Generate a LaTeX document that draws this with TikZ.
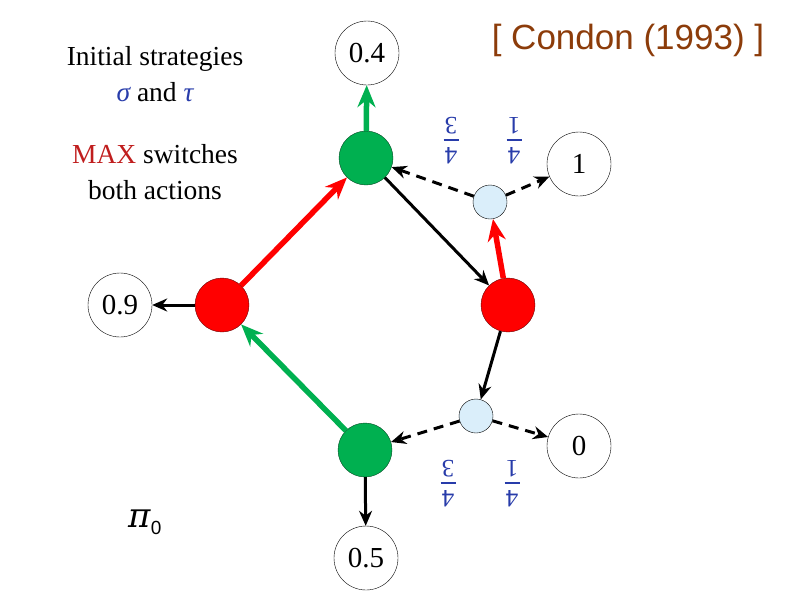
\documentclass[tikz,border=0pt]{standalone}
\usepackage{fontspec}
\usepackage{graphicx}
\setmainfont{Liberation Serif}
\newfontfamily\citefont{Liberation Sans}
\newfontfamily\pifont{DejaVu Serif}
\usetikzlibrary{positioning, arrows.meta}
\definecolor{nodegreen}{RGB}{0,176,80}
\definecolor{nodered}{RGB}{255,0,0}
\definecolor{avgblue}{RGB}{218,238,250}
\definecolor{fracblue}{RGB}{40,60,170}
\definecolor{maxred}{RGB}{192,30,30}
\definecolor{citebrown}{RGB}{140,60,10}
% upside-down probability label
\newcommand{\flipfrac}[2]{\shortstack{\rotatebox{180}{#1}\\[2pt]\rule{15pt}{1.6pt}\\[4pt]\rotatebox{180}{#2}}}

\begin{document}
\begin{tikzpicture}[
  x=1pt, y=-1pt,
  term/.style={circle, draw, thin, minimum size=64pt, inner sep=0pt,
               font=\fontsize{29}{29}\selectfont},
  maxn/.style={circle, draw=black!60!nodered, fill=nodered, minimum size=54pt},
  minn/.style={circle, draw=black!60!nodegreen, fill=nodegreen, minimum size=54pt},
  avgn/.style={circle, draw, fill=avgblue, minimum size=34pt},
  arr/.style={-{Stealth[length=15pt, width=13pt]}, line width=3pt},
  sarr/.style={-{Stealth[length=22pt, width=18pt]}, line width=5.5pt},
  darr/.style={arr, dash pattern=on 10pt off 7pt},
  prob/.style={text=fracblue, inner sep=0pt, font=\fontsize{25}{25}\selectfont},
  txt/.style={align=center, font=\fontsize{27.5}{36}\selectfont}
]
  \useasboundingbox (0,0) rectangle (794,595);

  % terminal values
  \node[term] (v04) at (367,53)  {0.4};
  \node[term] (v09) at (120,305) {0.9};
  \node[term] (v1)  at (579,164) {1};
  \node[term] (v0)  at (579,446) {0};
  \node[term] (v05) at (366,558) {0.5};

  % game vertices
  \node[minn] (mintop) at (366,158) {};
  \node[minn] (minbot) at (365,450) {};
  \node[maxn] (maxl)   at (222,305) {};
  \node[maxn] (maxr)   at (508,305) {};
  \node[avgn] (avgtop) at (490,202) {};
  \node[avgn] (avgbot) at (476,416) {};

  % edges
  \draw[sarr, nodegreen] (mintop) -- (v04);
  \draw[sarr, nodered]   (maxl) -- (mintop);
  \draw[sarr, nodegreen] (minbot) -- (maxl);
  \draw[sarr, nodered]   (maxr) -- (avgtop);
  \draw[arr] (maxl) -- (v09);
  \draw[arr] (mintop) -- (maxr);
  \draw[arr] (maxr) -- (avgbot);
  \draw[arr] (minbot) -- (v05);
  \draw[darr] (avgtop) -- (mintop);
  \draw[darr] (avgtop) -- (v1);
  \draw[darr] (avgbot) -- (minbot);
  \draw[darr] (avgbot) -- (v0);

  % probabilities
  \node[prob] (ptl) at (451,141) {\flipfrac{3}{4}};
  \node[prob] (ptr) at (514,141) {\flipfrac{1}{4}};
  \node[prob] (pbl) at (448,484) {\flipfrac{3}{4}};
  \node[prob] (pbr) at (512,484) {\flipfrac{1}{4}};

  % texts
  \node[txt] (init) at (155,74) {Initial strategies\\
    {\color{fracblue}\itshape σ} and {\color{fracblue}\itshape τ}};
  \node[txt] (switch) at (155,172) {{\color{maxred}MAX} switches\\both actions};
  \node[font=\citefont\fontsize{35}{35}\selectfont, text=citebrown] (cite)
    at (628,40) {[ Condon (1993) ]};
  \node[font=\pifont\fontsize{34}{34}\selectfont] (pi) at (145,522)
    {\itshape π\upshape\raisebox{-7pt}{\citefont\fontsize{19}{19}\selectfont 0}};
\end{tikzpicture}
\end{document}
